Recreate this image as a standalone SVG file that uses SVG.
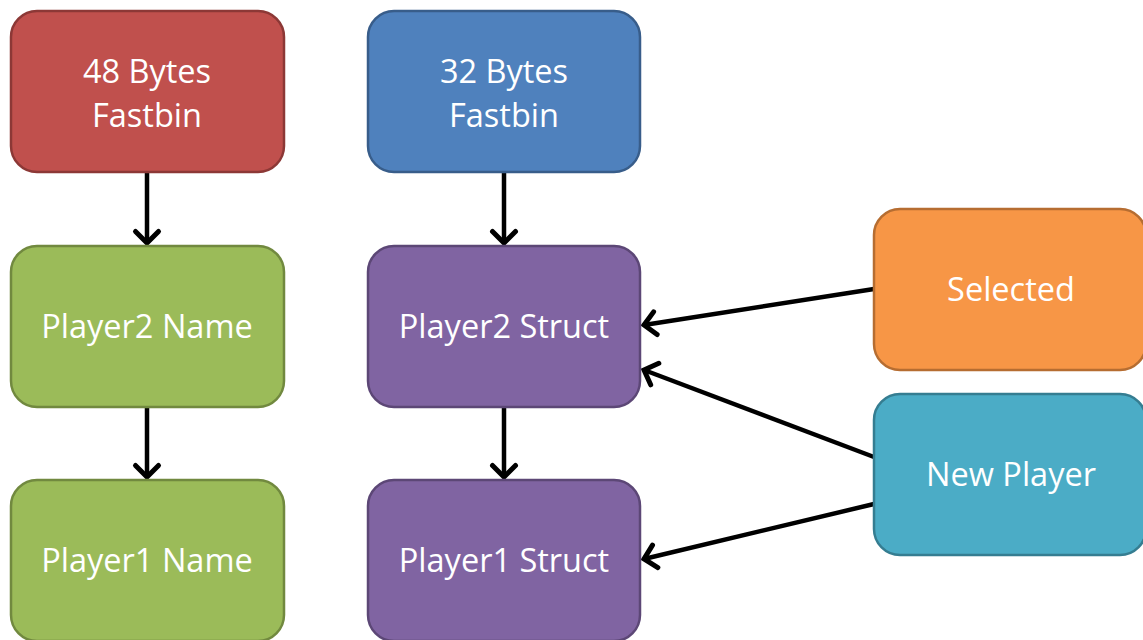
<svg xmlns="http://www.w3.org/2000/svg" width="1143" height="640" viewBox="0 0 1143 640">
  <defs>
    <marker id="chevron" viewBox="-16 -16 32 32" markerWidth="32" markerHeight="32" refX="0" refY="0" orient="auto" markerUnits="userSpaceOnUse">
      <path d="M -11.5 -11.5 L 0 0 L -11.5 11.5" fill="none" stroke="#000" stroke-width="5" stroke-linecap="round" stroke-linejoin="miter"/>
    </marker>
  </defs>
  <style>
    .box { stroke-width: 2.5; }
    .red { fill: #C0504D; stroke: #8C3836; }
    .green { fill: #9BBB59; stroke: #71893F; }
    .blue { fill: #4F81BD; stroke: #385D8A; }
    .purple { fill: #8064A2; stroke: #5C4776; }
    .orange { fill: #F79646; stroke: #B66D31; }
    .teal { fill: #4BACC6; stroke: #357D91; }
    .label { font-family: "Open Sans", "Liberation Sans", sans-serif; font-size: 32.5px; fill: #FFFFFF; text-anchor: middle; }
    .conn { stroke: #000; stroke-width: 4.5; fill: none; marker-end: url(#chevron); }
  </style>
  <rect width="1143" height="640" fill="#FFFFFF"/>

  <g id="connectors">
    <line class="conn" x1="147" y1="173" x2="147" y2="243"/>
    <line class="conn" x1="504" y1="173" x2="504" y2="243"/>
    <line class="conn" x1="147" y1="408" x2="147" y2="477"/>
    <line class="conn" x1="504" y1="408" x2="504" y2="477"/>
    <line class="conn" x1="874" y1="289" x2="644" y2="325"/>
    <line class="conn" x1="874" y1="457" x2="644" y2="370"/>
    <line class="conn" x1="874" y1="504" x2="644" y2="559"/>
  </g>

  <g id="fastbin48">
    <rect class="box red" x="11" y="11" width="273" height="161" rx="26"/>
    <text class="label" x="147" y="83">48 Bytes</text>
    <text class="label" x="147" y="127">Fastbin</text>
  </g>
  <g id="player2-name">
    <rect class="box green" x="11" y="246" width="273" height="161" rx="26"/>
    <text class="label" x="147" y="338">Player2 Name</text>
  </g>
  <g id="player1-name">
    <rect class="box green" x="11" y="480" width="273" height="161" rx="26"/>
    <text class="label" x="147" y="572">Player1 Name</text>
  </g>
  <g id="fastbin32">
    <rect class="box blue" x="368" y="11" width="272" height="161" rx="26"/>
    <text class="label" x="504" y="83">32 Bytes</text>
    <text class="label" x="504" y="127">Fastbin</text>
  </g>
  <g id="player2-struct">
    <rect class="box purple" x="368" y="246" width="272" height="161" rx="26"/>
    <text class="label" x="504" y="338">Player2 Struct</text>
  </g>
  <g id="player1-struct">
    <rect class="box purple" x="368" y="480" width="272" height="161" rx="26"/>
    <text class="label" x="504" y="572">Player1 Struct</text>
  </g>
  <g id="selected">
    <rect class="box orange" x="874" y="209" width="272" height="161" rx="26"/>
    <text class="label" x="1011" y="301">Selected</text>
  </g>
  <g id="new-player">
    <rect class="box teal" x="874" y="394" width="272" height="161" rx="26"/>
    <text class="label" x="1011" y="486">New Player</text>
  </g>
</svg>
